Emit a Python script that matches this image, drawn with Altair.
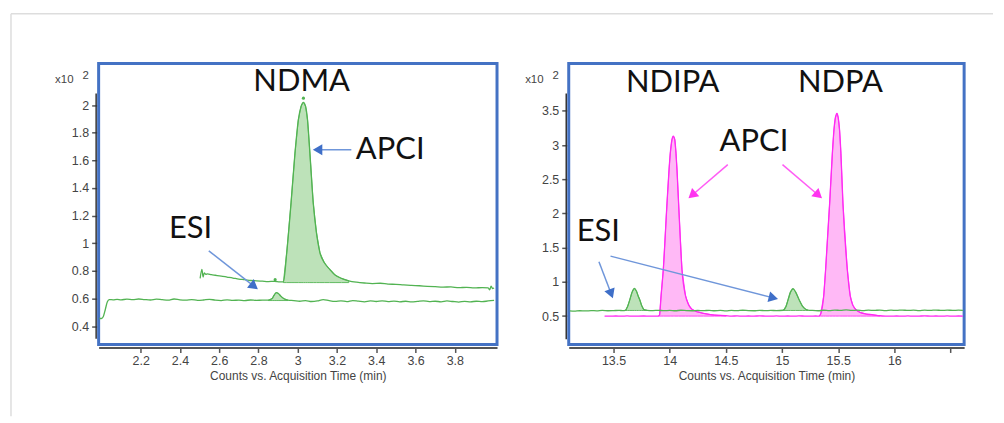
import altair as alt
import pandas as pd

# ---------------- Left panel: NDMA ----------------
ndma_x_domain = [1.986, 4.015]
ndma_y_domain = [0.267, 2.30]
ndma_x_ticks = [2.2, 2.4, 2.6, 2.8, 3.0, 3.2, 3.4, 3.6, 3.8]
ndma_y_ticks = [0.4, 0.6, 0.8, 1.0, 1.2, 1.4, 1.6, 1.8, 2.0]
ndma_y_axis_span = [2.084, 0.309]

esi_ndma_t = [1.99, 2.0, 2.01, 2.02, 2.03, 2.04, 2.06, 2.08, 2.10, 2.13, 2.16, 2.19, 2.22, 2.25,
              2.28, 2.31, 2.34, 2.37, 2.40, 2.43, 2.46, 2.49, 2.52, 2.55, 2.58, 2.61, 2.64, 2.67,
              2.70, 2.73, 2.76, 2.79, 2.82, 2.85, 2.87, 2.88, 2.89, 2.90, 2.915, 2.93, 2.95, 2.98,
              3.01, 3.04, 3.07, 3.10, 3.13, 3.16, 3.19, 3.22, 3.25, 3.28, 3.31, 3.34, 3.37, 3.40,
              3.43, 3.46, 3.49, 3.52, 3.55, 3.58, 3.61, 3.64, 3.67, 3.70, 3.73, 3.76, 3.79, 3.82,
              3.85, 3.88, 3.91, 3.94, 3.97, 4.0]
esi_ndma_v = [0.455, 0.455, 0.47, 0.52, 0.575, 0.592, 0.590, 0.594, 0.590, 0.595, 0.591, 0.596,
              0.592, 0.589, 0.595, 0.591, 0.588, 0.596, 0.590, 0.588, 0.592, 0.586, 0.589, 0.594,
              0.588, 0.585, 0.590, 0.586, 0.588, 0.585, 0.589, 0.586, 0.588, 0.588, 0.600, 0.625,
              0.642, 0.638, 0.615, 0.598, 0.588, 0.585, 0.580, 0.585, 0.578, 0.582, 0.592, 0.584,
              0.579, 0.583, 0.577, 0.585, 0.580, 0.576, 0.582, 0.578, 0.583, 0.577, 0.581, 0.576,
              0.580, 0.575, 0.579, 0.583, 0.577, 0.580, 0.576, 0.582, 0.578, 0.574, 0.579, 0.576,
              0.580, 0.577, 0.582, 0.586]
esi_ndma_peaks = [(2.85, 2.95, 0.585)]

apci_ndma_t = [2.503, 2.512, 2.518, 2.524, 2.532, 2.54, 2.56, 2.58, 2.61, 2.64, 2.67, 2.70, 2.73,
               2.76, 2.79, 2.82, 2.85, 2.88, 2.91, 2.927, 2.944, 2.966, 2.986, 3.003, 3.017, 3.029,
               3.04, 3.05, 3.062, 3.079, 3.095, 3.113, 3.135, 3.162, 3.19, 3.223, 3.26, 3.30, 3.34,
               3.38, 3.42, 3.46, 3.50, 3.54, 3.58, 3.62, 3.66, 3.70, 3.74, 3.78, 3.82, 3.86, 3.90,
               3.94, 3.97, 3.978, 3.985, 3.992, 4.0]
apci_ndma_v = [0.745, 0.81, 0.755, 0.785, 0.775, 0.778, 0.772, 0.768, 0.762, 0.755, 0.748, 0.74,
               0.736, 0.73, 0.728, 0.725, 0.722, 0.724, 0.72, 0.72, 0.932, 1.292, 1.652, 1.892,
               1.99, 2.02, 1.99, 1.892, 1.652, 1.292, 1.08, 0.932, 0.86, 0.812, 0.77, 0.745, 0.728,
               0.718, 0.712, 0.708, 0.71, 0.704, 0.702, 0.698, 0.695, 0.692, 0.688, 0.685, 0.682,
               0.684, 0.678, 0.681, 0.676, 0.679, 0.677, 0.662, 0.69, 0.672, 0.676]
apci_ndma_peaks = [(2.927, 3.26, 0.715)]

ndma_apex_t = [3.029, 2.885]
ndma_apex_v = [2.05, 0.736]

ndma_labels = ["NDMA", "APCI", "ESI"]
ndma_label_t = [3.02, 3.471, 2.454]
ndma_label_v = [2.163, 1.676, 1.10]

# arrows: (start t, start v, head t, head v)
ndma_blue_arrows = [(3.273, 1.676, 3.101, 1.676), (2.547, 0.945, 2.778, 0.688)]

# ---------------- Right panel: NDIPA / NDPA ----------------
nd_x_domain = [13.101, 16.621]
nd_y_domain = [0.085, 4.19]
nd_x_ticks = [13.5, 14.0, 14.5, 15.0, 15.5, 16.0, 16.5]
nd_y_ticks = [0.5, 1.0, 1.5, 2.0, 2.5, 3.0, 3.5]
nd_y_axis_span = [3.752, 0.162]

esi_nd_t = [13.11, 13.15, 13.20, 13.25, 13.30, 13.35, 13.40, 13.45, 13.50, 13.55, 13.58, 13.606,
            13.625, 13.645, 13.665, 13.686, 13.705, 13.72, 13.733, 13.75, 13.77, 13.80, 13.85,
            13.90, 13.95, 14.0, 14.05, 14.10, 14.15, 14.20, 14.25, 14.30, 14.35, 14.40, 14.45,
            14.50, 14.55, 14.60, 14.65, 14.70, 14.75, 14.80, 14.85, 14.90, 14.95, 15.01, 15.035,
            15.054, 15.075, 15.098, 15.12, 15.152, 15.18, 15.21, 15.23, 15.27, 15.32, 15.37, 15.42,
            15.47, 15.52, 15.57, 15.62, 15.67, 15.72, 15.77, 15.82, 15.87, 15.92, 15.97, 16.02,
            16.07, 16.12, 16.17, 16.22, 16.27, 16.32, 16.37, 16.42, 16.47, 16.52, 16.57, 16.61]
esi_nd_v = [0.575, 0.572, 0.578, 0.575, 0.580, 0.577, 0.582, 0.578, 0.580, 0.583, 0.580, 0.585,
            0.64, 0.74, 0.85, 0.905, 0.86, 0.79, 0.74, 0.655, 0.595, 0.583, 0.580, 0.584, 0.579,
            0.583, 0.578, 0.585, 0.580, 0.578, 0.583, 0.579, 0.584, 0.578, 0.582, 0.577, 0.583,
            0.579, 0.585, 0.580, 0.578, 0.584, 0.579, 0.583, 0.580, 0.585, 0.64, 0.74, 0.85, 0.90,
            0.855, 0.74, 0.65, 0.60, 0.588, 0.582, 0.578, 0.585, 0.580, 0.588, 0.582, 0.590,
            0.583, 0.586, 0.580, 0.587, 0.582, 0.588, 0.581, 0.586, 0.583, 0.588, 0.582, 0.587,
            0.581, 0.586, 0.583, 0.588, 0.582, 0.587, 0.583, 0.586, 0.584]
esi_nd_peaks = [(13.606, 13.80, 0.582), (15.01, 15.23, 0.582)]

apci_nd_t = [13.42, 13.47, 13.52, 13.57, 13.62, 13.67, 13.72, 13.77, 13.82, 13.87, 13.90, 13.91,
             13.923, 13.943, 13.976, 13.994, 14.005, 14.02, 14.032, 14.045, 14.056, 14.065, 14.079,
             14.109, 14.141, 14.17, 14.198, 14.25, 14.30, 14.35, 14.40, 14.45, 14.50, 14.55, 14.60,
             14.65, 14.70, 14.75, 14.80, 14.85, 14.90, 14.95, 15.00, 15.05, 15.10, 15.15, 15.20,
             15.25, 15.30, 15.33, 15.344, 15.371, 15.388, 15.424, 15.448, 15.462, 15.475, 15.489,
             15.50, 15.512, 15.524, 15.542, 15.581, 15.607, 15.63, 15.66, 15.70, 15.75, 15.80,
             15.87, 15.92, 15.97, 16.02, 16.07, 16.12, 16.17, 16.22, 16.27, 16.32, 16.37, 16.42,
             16.47, 16.52, 16.57, 16.61]
apci_nd_v = [0.500, 0.498, 0.501, 0.499, 0.502, 0.498, 0.500, 0.501, 0.499, 0.500, 0.50, 0.52,
             0.794, 1.181, 2.151, 2.636, 2.879, 3.08, 3.131, 3.08, 2.879, 2.636, 2.151, 1.181,
             0.794, 0.66, 0.599, 0.56, 0.54, 0.525, 0.515, 0.51, 0.505, 0.500, 0.502, 0.498,
             0.501, 0.499, 0.503, 0.500, 0.498, 0.502, 0.499, 0.501, 0.498, 0.502, 0.500, 0.499,
             0.501, 0.50, 0.53, 0.794, 1.181, 2.151, 2.879, 3.22, 3.40, 3.461, 3.40, 3.22, 2.879,
             2.151, 1.181, 0.794, 0.66, 0.59, 0.55, 0.53, 0.52, 0.505, 0.500, 0.498, 0.501, 0.499,
             0.502, 0.498, 0.500, 0.503, 0.499, 0.501, 0.498, 0.502, 0.499, 0.501, 0.500]
apci_nd_peaks = [(13.90, 14.50, 0.50), (15.33, 15.87, 0.50)]

nd_labels = ["NDIPA", "NDPA", "APCI", "ESI"]
nd_label_t = [14.027, 15.52, 14.75, 13.365]
nd_label_v = [3.912, 3.912, 3.04, 1.73]

nd_blue_arrows = [(13.370, 1.293, 13.479, 0.826), (13.473, 1.376, 14.923, 0.766)]
nd_pink_arrows = [(14.517, 2.714, 14.199, 2.266), (15.004, 2.714, 15.324, 2.266)]

# ---------------- styling ----------------
GREEN = "#52b352"
GREEN_FILL = "#b6dfb2"
MAGENTA = "#ff2bf2"
MAGENTA_FILL = "#ffb2f6"
BLUE_LINE = "#6f96da"
BLUE_HEAD = "#3f6fc8"
PINK_LINE = "#ff5cf5"
PINK_HEAD = "#ff33f0"
LABEL_FONT = "Lato"
AXIS_FONT = "Liberation Sans"
AXIS_TEXT = "#444444"
AXIS_LINE = "#555555"
W_LEFT, W_RIGHT, H = 400, 397, 282


def trace_df(t, v):
    return pd.DataFrame({"t": t, "v": v})


def peak_df(t, v, peaks):
    rows = []
    for i, (a, b, base) in enumerate(peaks):
        for tt, vv in zip(t, v):
            if a <= tt <= b:
                rows.append({"t": tt, "v": vv, "base": base, "peak": i})
    return pd.DataFrame(rows)


def x_axis(values, hide=None):
    kw = dict(values=values, title="Counts vs. Acquisition Time (min)", grid=False,
              domainColor=AXIS_LINE, domainWidth=2, tickColor=AXIS_LINE, tickWidth=1.5,
              tickSize=5, offset=3, labelFont=AXIS_FONT, labelFontSize=12.5,
              labelColor=AXIS_TEXT, labelPadding=2, labelFlush=False, labelOverlap=False,
              titleFont=AXIS_FONT, titleFontSize=12, titleFontWeight="normal",
              titleColor=AXIS_TEXT, titlePadding=4, format="~g")
    if hide is not None:
        kw["labelExpr"] = f"datum.value == {hide} ? '' : datum.label"
    return alt.Axis(**kw)


def y_axis(values):
    return alt.Axis(values=values, format=".1~f", grid=False, domain=False,
                    tickColor=AXIS_LINE, tickWidth=1.5, tickSize=5, offset=2,
                    labelFont=AXIS_FONT, labelFontSize=12.5, labelColor=AXIS_TEXT,
                    labelPadding=3, labelOverlap=False,
                    title="x10", titleAngle=0, titleX=-33, titleY=19, titleAlign="center",
                    titleBaseline="alphabetic", titleFont=AXIS_FONT, titleFontSize=11.5,
                    titleFontWeight="normal", titleColor=AXIS_TEXT)


def panel(xdom, ydom, xticks, yticks, yspan, traces, labels, arrows, apex=None,
          hide_tick=None, width=400, frame=False):
    xs = alt.Scale(domain=xdom, nice=False, zero=False)
    ys = alt.Scale(domain=ydom, nice=False, zero=False)
    xa = x_axis(xticks, hide_tick)
    ya = y_axis(yticks)

    def X(f):
        return alt.X(f, scale=xs, axis=xa)

    def Y(f):
        return alt.Y(f, scale=ys, axis=ya)

    layers = []
    if frame:
        layers.append(alt.Chart(pd.DataFrame({"a": [0]})).mark_rule(
            color="#dddddd", strokeWidth=1.5).encode(
            x=alt.value(-88), y=alt.value(-50), y2=alt.value(354)))
        layers.append(alt.Chart(pd.DataFrame({"a": [0]})).mark_rule(
            color="#dddddd", strokeWidth=1.5).encode(
            x=alt.value(-88), x2=alt.value(898), y=alt.value(-50)))
    # peak fills
    for t, v, peaks, line_c, fill_c in traces:
        pdf = peak_df(t, v, peaks)
        layers.append(alt.Chart(pdf).mark_area(
            color=fill_c, opacity=0.9, stroke=line_c, strokeWidth=1).encode(
            x=X("t:Q"), y=Y("v:Q"), y2="base:Q", detail="peak:N"))
    # traces
    for t, v, peaks, line_c, fill_c in traces:
        layers.append(alt.Chart(trace_df(t, v)).mark_line(
            color=line_c, strokeWidth=1.3, interpolate="monotone").encode(
            x=X("t:Q"), y=Y("v:Q")))
    # y-axis line
    sdf = pd.DataFrame({"top": [yspan[0]], "bottom": [yspan[1]]})
    layers.append(alt.Chart(sdf).mark_rule(color="#333333", strokeWidth=1.5).encode(
        x=alt.value(-2.5), y=Y("top:Q"), y2="bottom:Q"))
    if apex is not None:
        layers.append(alt.Chart(trace_df(*apex)).mark_point(
            filled=True, size=10, color=GREEN, opacity=1).encode(x=X("t:Q"), y=Y("v:Q")))
    # arrows
    for (t0, v0, t1, v1), line_c, head_c, ang in arrows:
        adf = pd.DataFrame({"t0": [t0], "v0": [v0], "t1": [t1], "v1": [v1]})
        layers.append(alt.Chart(adf).mark_rule(color=line_c, strokeWidth=1.5).encode(
            x=X("t0:Q"), y=Y("v0:Q"), x2="t1:Q", y2="v1:Q"))
        layers.append(alt.Chart(adf).mark_point(
            shape="triangle-up", filled=True, size=120, color=head_c, opacity=1,
            angle=ang).encode(x=X("t1:Q"), y=Y("v1:Q")))
    # labels
    ldf = pd.DataFrame({"label": labels[0], "t": labels[1], "v": labels[2]})
    layers.append(alt.Chart(ldf).mark_text(
        font=LABEL_FONT, fontSize=31, color="#111111", baseline="middle", align="center").encode(
        x=X("t:Q"), y=Y("v:Q"), text="label:N"))
    # exponent of the "x10" axis title
    layers.append(alt.Chart(pd.DataFrame({"a": [0]})).mark_text(
        text="2", font=AXIS_FONT, fontSize=11.5, color=AXIS_TEXT, align="center",
        baseline="alphabetic").encode(x=alt.value(-13), y=alt.value(15)))
    return alt.layer(*layers).properties(width=width, height=H)


left = panel(ndma_x_domain, ndma_y_domain, ndma_x_ticks, ndma_y_ticks, ndma_y_axis_span,
             [(esi_ndma_t, esi_ndma_v, esi_ndma_peaks, GREEN, GREEN_FILL),
              (apci_ndma_t, apci_ndma_v, apci_ndma_peaks, GREEN, GREEN_FILL)],
             (ndma_labels, ndma_label_t, ndma_label_v),
             [(ndma_blue_arrows[0], BLUE_LINE, BLUE_HEAD, 270),
              (ndma_blue_arrows[1], BLUE_LINE, BLUE_HEAD, 128)],
             apex=(ndma_apex_t, ndma_apex_v), width=W_LEFT, frame=True)

right = panel(nd_x_domain, nd_y_domain, nd_x_ticks, nd_y_ticks, nd_y_axis_span,
              [(apci_nd_t, apci_nd_v, apci_nd_peaks, MAGENTA, MAGENTA_FILL),
               (esi_nd_t, esi_nd_v, esi_nd_peaks, GREEN, GREEN_FILL)],
              (nd_labels, nd_label_t, nd_label_v),
              [(nd_blue_arrows[0], BLUE_LINE, BLUE_HEAD, 159),
               (nd_blue_arrows[1], BLUE_LINE, BLUE_HEAD, 104),
               (nd_pink_arrows[0], PINK_LINE, PINK_HEAD, 229),
               (nd_pink_arrows[1], PINK_LINE, PINK_HEAD, 131)],
              hide_tick=16.5, width=W_RIGHT)

chart = alt.hconcat(left, right, spacing=72, bounds="flush").properties(
    padding={"left": 0, "top": 2, "right": 0, "bottom": 0},
    background="white",
).configure_view(stroke="#4472c4", strokeWidth=3)

chart.save("out.html", embed_options={"renderer": "svg", "actions": False})
